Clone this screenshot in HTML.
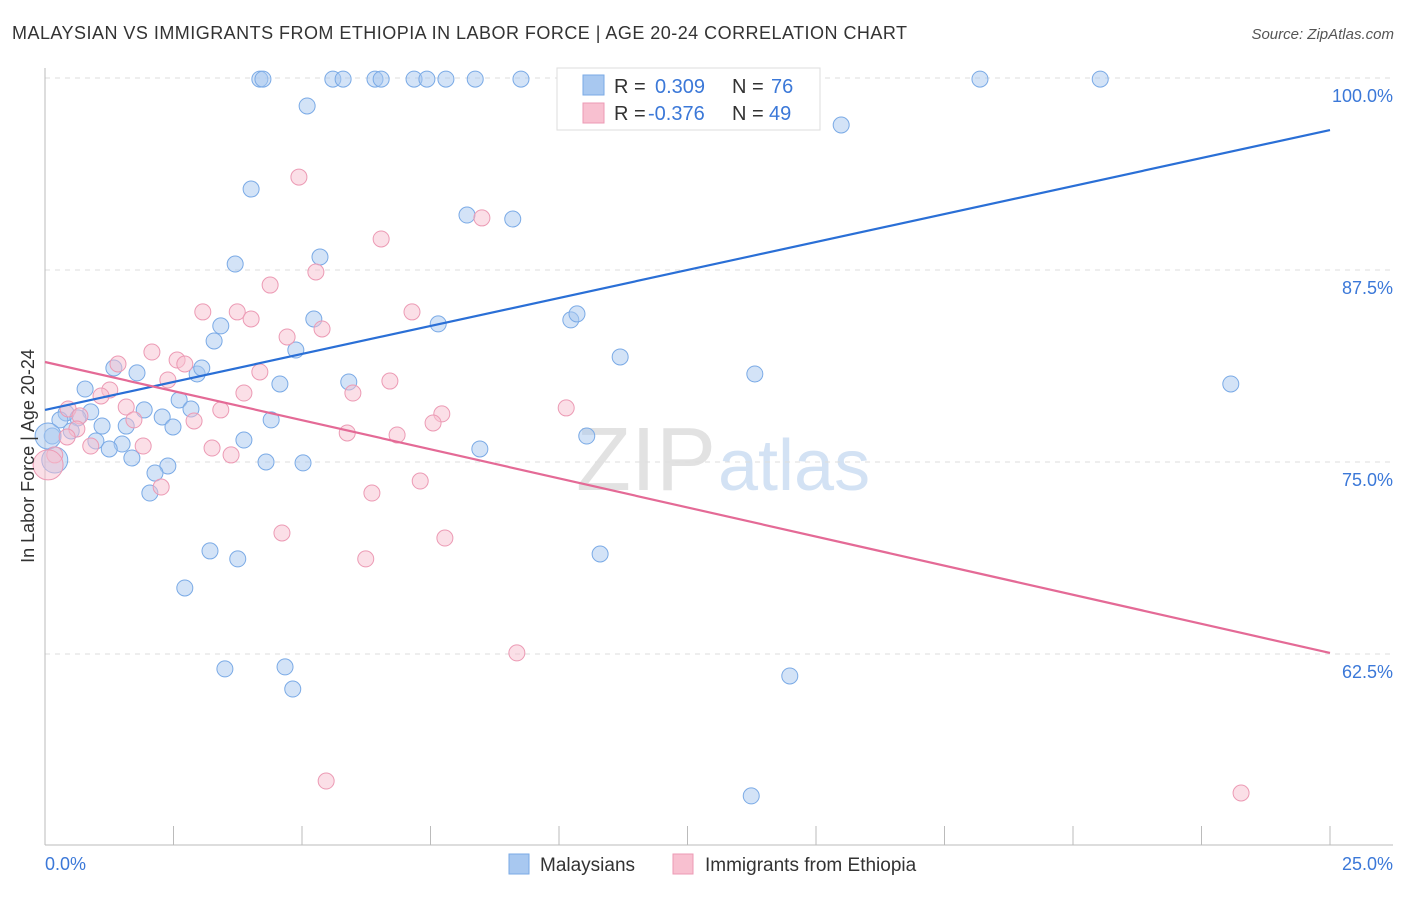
<!DOCTYPE html>
<html><head><meta charset="utf-8">
<style>
body{margin:0;background:#fff;font-family:"Liberation Sans",sans-serif;}
svg text{font-family:"Liberation Sans",sans-serif;}
</style></head>
<body>
<svg id="chart" width="1406" height="892">
<text x="12" y="39" font-size="18" fill="#333" textLength="895" lengthAdjust="spacing">MALAYSIAN VS IMMIGRANTS FROM ETHIOPIA IN LABOR FORCE | AGE 20-24 CORRELATION CHART</text>
<text x="1394" y="39" font-size="15" fill="#555" font-style="italic" text-anchor="end">Source: ZipAtlas.com</text>
<text x="716" y="490" font-size="90" fill="#e2e2e2" text-anchor="end" font-family="Liberation Serif">ZIP</text>
<text x="718" y="490" font-size="72" fill="#d3e2f4">atlas</text>
<g id="grid"></g>
<g id="axes"></g>
<g id="pts"></g>
<g id="lines"></g>
<text transform="translate(34,456) rotate(-90)" font-size="18" fill="#333" text-anchor="middle">In Labor Force | Age 20-24</text>
<g>
<rect x="557" y="68" width="263" height="62" fill="#fff" stroke="#ddd"/>
<rect x="583" y="75" width="21" height="20" fill="#a8c8f0" stroke="#7aaae6"/>
<text x="614" y="93" font-size="20" fill="#333">R = </text><text x="655" y="93" font-size="20" fill="#3b78d8">0.309</text>
<text x="732" y="93" font-size="20" fill="#333">N = </text><text x="771" y="93" font-size="20" fill="#3b78d8">76</text>
<rect x="583" y="103" width="21" height="20" fill="#f8c0d0" stroke="#ec9ab4"/>
<text x="614" y="120" font-size="20" fill="#333">R = </text><text x="648" y="120" font-size="20" fill="#3b78d8">-0.376</text>
<text x="732" y="120" font-size="20" fill="#333">N = </text><text x="769" y="120" font-size="20" fill="#3b78d8">49</text>
</g>
<g>
<rect x="509" y="854" width="20" height="20" fill="#a8c8f0" stroke="#7aaae6"/>
<text x="540" y="871" font-size="19" fill="#333">Malaysians</text>
<rect x="673" y="854" width="20" height="20" fill="#f8c0d0" stroke="#ec9ab4"/>
<text x="705" y="871" font-size="19" fill="#333">Immigrants from Ethiopia</text>
</g>
</svg>
<script>
const blueX=[4.18,4.24,5.60,5.80,6.42,6.54,7.18,7.43,7.80,8.37,9.26,10.93,13.23,18.19,20.53,5.10,15.49,4.01,8.21,9.10,3.70,5.35,3.42,3.29,5.23,7.65,10.23,10.35,4.88,11.19,1.34,1.79,2.96,3.05,4.57,5.91,13.81,23.07,0.78,2.61,2.84,1.93,0.89,0.41,0.29,0.64,2.28,2.49,1.58,1.11,0.51,0.14,0.99,1.50,1.25,3.87,4.40,8.46,10.54,1.69,2.39,2.14,4.30,5.02,2.04,3.21,3.75,10.80,2.72,3.50,4.67,4.82,14.49,13.74,0.19,0.06];
const blueY=[99.93,99.93,99.93,99.93,99.93,99.93,99.93,99.93,99.93,99.93,99.93,99.93,99.93,99.93,99.93,98.18,96.94,92.77,91.08,90.82,87.89,88.35,83.86,82.88,84.31,83.99,84.25,84.64,82.29,81.84,81.12,80.80,80.73,81.12,80.08,80.21,80.73,80.08,79.75,79.04,78.45,78.39,78.26,78.19,77.74,77.87,77.93,77.28,77.34,77.34,77.02,76.69,76.37,76.17,75.85,76.43,77.74,75.85,76.69,75.26,74.74,74.28,75.00,74.94,72.98,69.21,68.69,69.01,66.80,61.53,61.66,60.22,61.07,53.26,75.13,76.69];
const blueBig=[74,75];
const pinkX=[4.94,8.50,6.54,5.27,4.38,3.07,3.74,4.01,5.39,7.14,4.71,2.08,2.57,2.72,1.42,4.18,2.39,6.71,1.26,1.09,3.87,5.99,1.58,3.42,1.73,2.90,7.72,10.14,7.55,0.45,0.68,0.62,0.43,0.89,1.91,5.88,6.85,3.25,3.62,0.19,0.06,2.26,6.36,7.30,7.78,4.61,6.24,9.18,5.47,23.27];
const pinkY=[93.55,90.89,89.52,87.37,86.52,84.77,84.77,84.31,83.66,84.77,83.14,82.16,81.64,81.38,81.38,80.86,80.34,80.27,79.69,79.30,79.49,79.49,78.58,78.39,77.74,77.67,78.13,78.52,77.54,78.45,78.00,77.15,76.63,76.04,76.04,76.89,76.76,75.91,75.46,75.46,74.81,73.37,72.98,73.76,70.05,70.38,68.69,62.57,54.23,53.45];
const pinkBig=[40];
const blueLine=[78.39,96.61];
const pinkLine=[81.51,62.57];
const yTicks=[100,87.5,75,62.5];
const yTickLabels=["100.0%","87.5%","75.0%","62.5%"];
const xTicks=[0,2.5,5,7.5,10,12.5,15,17.5,20,22.5,25];
const NS="http://www.w3.org/2000/svg";
const sx=v=>45+v/25*1285;
const sy=v=>78+(100-v)*15.36;
function mk(tag,attrs,parent){const e=document.createElementNS(NS,tag);for(const k in attrs)e.setAttribute(k,attrs[k]);document.getElementById(parent).appendChild(e);return e;}
yTicks.forEach((t,i)=>{
  const g=mk('line',{x1:45,x2:1393,y1:sy(t),y2:sy(t),stroke:'#ddd','stroke-dasharray':'5,5'},'grid');
  
  
  const l=mk('text',{x:1393,y:sy(t)+24,'font-size':18,fill:'#3b78d8','text-anchor':'end'},'grid');
  l.textContent=yTickLabels[i];
  
  
});
const ax=mk('line',{x1:45,x2:45,y1:68,y2:845,stroke:'#bbb'},'axes');


const bx=mk('line',{x1:45,x2:1393,y1:845,y2:845,stroke:'#bbb'},'axes');


xTicks.forEach(t=>{
  const k=mk('line',{x1:sx(t),x2:sx(t),y1:826,y2:845,stroke:'#bbb'},'axes');
  
  
});
const x0=mk('text',{x:45,y:870,'font-size':18,fill:'#3b78d8'},'axes');x0.textContent='0.0%';


const x1=mk('text',{x:1393,y:870,'font-size':18,fill:'#3b78d8','text-anchor':'end'},'axes');x1.textContent='25.0%';


blueX.forEach((v,i)=>{
  const c=mk('circle',{cx:sx(v),cy:sy(blueY[i]),r:blueBig.includes(i)?13:8,fill:'rgba(168,200,240,0.5)',stroke:'#7aaae6','stroke-width':1},'pts');
  
  
});
pinkX.forEach((v,i)=>{
  const c=mk('circle',{cx:sx(v),cy:sy(pinkY[i]),r:pinkBig.includes(i)?15:8,fill:'rgba(248,192,208,0.5)',stroke:'#ec9ab4','stroke-width':1},'pts');
  
  
});
const bl=mk('line',{x1:sx(0),y1:sy(blueLine[0]),x2:sx(25),y2:sy(blueLine[1]),stroke:'#2a6fd6','stroke-width':2.2},'lines');


const pl=mk('line',{x1:sx(0),y1:sy(pinkLine[0]),x2:sx(25),y2:sy(pinkLine[1]),stroke:'#e46a96','stroke-width':2.2},'lines');


</script>
</body></html>
